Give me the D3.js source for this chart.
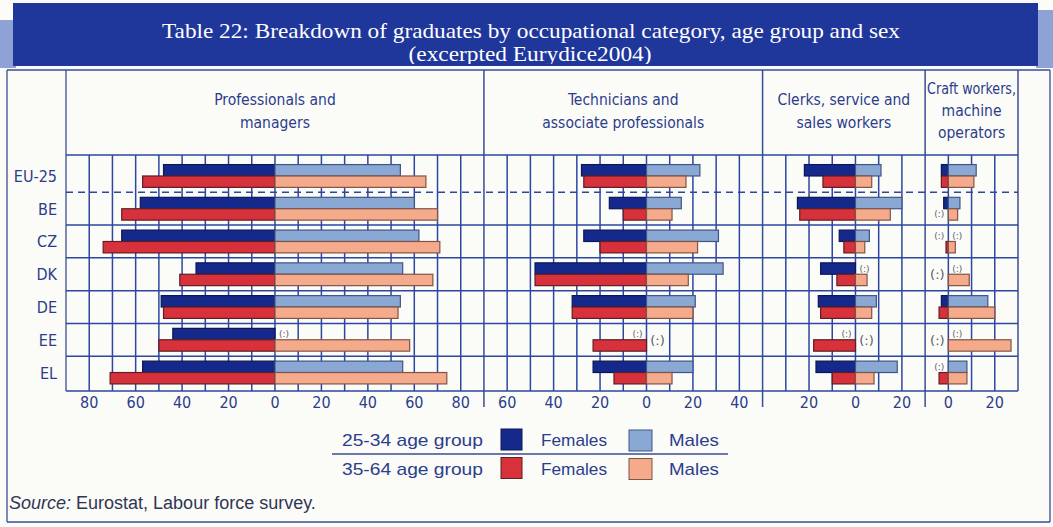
<!DOCTYPE html>
<html>
<head>
<meta charset="utf-8">
<script src="https://cdn.jsdelivr.net/npm/d3@7"></script>
<style>
  html, body { margin: 0; padding: 0; background: #fbfbf8; }
  svg { display: block; }
</style>
</head>
<body>
<svg id="chart" width="1053" height="527"></svg>
<script>
// Countries (rows, top to bottom)
const countries = ["EU-25", "BE", "CZ", "DK", "DE", "EE", "EL"];

// Occupational categories (one panel each)
const categories = [
  ["Professionals and", "managers"],
  ["Technicians and", "associate professionals"],
  ["Clerks, service and", "sales workers"],
  ["Craft workers,", "machine", "operators"]
];

// Per-panel value range (females to the left, males to the right)
const panelDomains = [[-90, 90], [-70, 50], [-40, 30], [-10, 30]];
const gridValues = [
  d3.range(-80, 81, 10),
  d3.range(-60, 41, 10),
  d3.range(-30, 21, 10),
  d3.range(0, 21, 10)
];
const tickLabels = [
  [-80, -60, -40, -20, 0, 20, 40, 60, 80],
  [-60, -40, -20, 0, 20, 40],
  [-20, 0, 20],
  [0, 20]
];

// Percentages; null = not available "(:)"
// 25-34 age group
const females2534 = [
  [48, 58, 66, 34, 49, 44, 57],
  [28, 16, 27, 48, 32, null, 23],
  [22, 25, 7, 15, 16, null, 17],
  [3, 2, null, null, 3, null, null]
];
const males2534 = [
  [54, 60, 62, 55, 54, null, 55],
  [23, 15, 31, 33, 21, null, 20],
  [11, 20, 6, null, 9, null, 18],
  [12, 5, null, null, 17, null, 8]
];
// 35-64 age group
const females3564 = [
  [57, 66, 74, 41, 48, 50, 71],
  [27, 10, 20, 48, 32, 23, 14],
  [14, 24, 5, 8, 15, 18, 10],
  [3, null, 1, null, 4, null, 4]
];
const males3564 = [
  [65, 70, 71, 68, 53, 58, 74],
  [17, 11, 22, 18, 20, null, 11],
  [7, 15, 4, 5, 7, null, 8],
  [11, 4, 3, 9, 20, 27, 8]
];

const legendRows = [
  { label: "25-34 age group", female: "#15298c", male: "#8aa8d4" },
  { label: "35-64 age group", female: "#d7323b", male: "#f6aa8c" }
];

const COL = {
  f1: "#15298c", m1: "#8aa8d4", f2: "#d7323b", m2: "#f6aa8c",
  f1s: "#0b1756", m1s: "#3f5686", f2s: "#5e1e24", m2s: "#7e5546",
  grid: "#2c46a2", frame: "#3a4c94", text: "#2b3d8c", na: "#5b5b66"
};
const NARROW = "'Liberation Sans Narrow', 'DejaVu Sans Condensed', 'Arial Narrow', sans-serif";

const svg = d3.select("#chart");

// ---- Title banner ----
svg.append("rect").attr("x", 0).attr("y", 20).attr("width", 16).attr("height", 48).attr("fill", "#8fa2d6");
svg.append("rect").attr("x", 1036).attr("y", 10).attr("width", 17).attr("height", 58).attr("fill", "#8fa2d6");
svg.append("rect").attr("x", 13).attr("y", 3).attr("width", 1025).attr("height", 63).attr("fill", "#1f379b");
svg.append("clipPath").attr("id", "bannerClip")
  .append("rect").attr("x", 13).attr("y", 3).attr("width", 1025).attr("height", 61);
const titleG = svg.append("g").attr("clip-path", "url(#bannerClip)")
  .attr("font-family", "'Liberation Serif', 'Times New Roman', serif")
  .attr("fill", "#ffffff").attr("text-anchor", "middle");
titleG.append("text").attr("x", 531).attr("y", 38).attr("font-size", 22)
  .attr("textLength", 738).attr("lengthAdjust", "spacingAndGlyphs")
  .text("Table 22: Breakdown of graduates by occupational category, age group and sex");
titleG.append("text").attr("x", 530).attr("y", 61).attr("font-size", 22)
  .attr("textLength", 243).attr("lengthAdjust", "spacingAndGlyphs")
  .text("(excerpted Eurydice2004)");

// ---- Layout ----
const plotLeft = 66, plotRight = 1018, plotTop = 155, plotBottom = 391;
const headerTop = 70;
const spans = panelDomains.map(d => d[1] - d[0]);
const pxPerUnit = (plotRight - plotLeft) / d3.sum(spans);
let acc = plotLeft;
const xScales = panelDomains.map((dom, i) => {
  const s = d3.scaleLinear().domain(dom).range([acc, acc + spans[i] * pxPerUnit]);
  acc += spans[i] * pxPerUnit;
  return s;
});

const y = d3.scaleBand().domain(countries).range([159.6, 388.9]);
const barH = 11.4;

// ---- Frame ----
const frame = svg.append("g").attr("stroke", COL.frame).attr("stroke-width", 1.3).attr("fill", "none");
frame.append("line").attr("x1", 7).attr("x2", 1050).attr("y1", headerTop).attr("y2", headerTop);
frame.append("line").attr("x1", 7).attr("x2", 7).attr("y1", headerTop).attr("y2", 522);
frame.append("line").attr("x1", 1050).attr("x2", 1050).attr("y1", headerTop).attr("y2", 522);
frame.append("line").attr("x1", 7).attr("x2", 1050).attr("y1", 522).attr("y2", 522);
frame.append("line").attr("x1", plotLeft).attr("x2", plotLeft).attr("y1", headerTop).attr("y2", plotBottom);

// ---- Grid (behind bars) ----
const grid = svg.append("g").attr("stroke", COL.grid).attr("stroke-width", 1.5);
xScales.forEach((xs, p) => {
  grid.selectAll(null).data(gridValues[p]).join("line")
    .attr("x1", d => xs(d)).attr("x2", d => xs(d))
    .attr("y1", plotTop).attr("y2", plotBottom);
});
// panel separators, running from header to axis labels
xScales.forEach((xs, p) => {
  const r = xs.range()[1];
  grid.append("line").attr("x1", r).attr("x2", r).attr("y1", headerTop)
    .attr("y2", p < 3 ? 407 : plotBottom).attr("stroke", COL.frame);
});
// row lines
grid.append("line").attr("x1", plotLeft).attr("x2", plotRight).attr("y1", plotTop).attr("y2", plotTop);
grid.append("line").attr("x1", plotLeft).attr("x2", plotRight).attr("y1", plotBottom).attr("y2", plotBottom);
grid.selectAll(null).data(countries.slice(1)).join("line")
  .attr("x1", plotLeft).attr("x2", plotRight)
  .attr("y1", d => y(d)).attr("y2", d => y(d))
  .attr("stroke-dasharray", (d, i) => i === 0 ? "7,5" : null);

// ---- Headers ----
const header = svg.append("g").attr("font-family", NARROW).attr("fill", COL.text)
  .attr("text-anchor", "middle").attr("font-size", 15.5);
categories.forEach((lines, p) => {
  const [a, b] = xScales[p].range();
  const cx = (a + b) / 2;
  const base = lines.length === 3 ? 94 : 105;
  const step = lines.length === 3 ? 22 : 23;
  lines.forEach((t, k) => {
    const el = header.append("text").attr("x", cx).attr("y", base + k * step).text(t);
    // squeeze a line that would overrun its cell
    const maxW = (b - a) - 4;
    if (el.node().getComputedTextLength() > maxW) {
      el.attr("textLength", maxW).attr("lengthAdjust", "spacingAndGlyphs");
    }
  });
});

// ---- Row labels ----
svg.append("g").attr("font-family", NARROW).attr("fill", COL.text)
  .attr("font-size", 16).attr("text-anchor", "end")
  .selectAll("text").data(countries).join("text")
  .attr("x", 57).attr("y", d => y(d) + y.bandwidth() / 2 + 6)
  .text(d => d);

// ---- Bars ----
const bars = svg.append("g").attr("stroke-width", 1.2);
const seriesDefs = [
  { vals: females2534, side: -1, row: 0, fill: COL.f1, stroke: COL.f1s },
  { vals: males2534, side: 1, row: 0, fill: COL.m1, stroke: COL.m1s },
  { vals: females3564, side: -1, row: 1, fill: COL.f2, stroke: COL.f2s },
  { vals: males3564, side: 1, row: 1, fill: COL.m2, stroke: COL.m2s }
];
xScales.forEach((xs, p) => {
  seriesDefs.forEach(s => {
    const data = countries.map((c, i) => ({ c, v: s.vals[p][i] })).filter(d => d.v != null);
    bars.selectAll(null).data(data).join("rect")
      .attr("x", d => Math.min(xs(0), xs(s.side * d.v)))
      .attr("width", d => Math.abs(xs(s.side * d.v) - xs(0)))
      .attr("y", d => y(d.c) + y.bandwidth() / 2 - barH + s.row * barH)
      .attr("height", barH)
      .attr("fill", s.fill).attr("stroke", s.stroke);
  });
});

// ---- Not-available markers "(:)" ----
const na = svg.append("g").attr("fill", COL.na)
  .attr("font-family", "'DejaVu Sans', sans-serif").attr("text-anchor", "middle");
xScales.forEach((xs, p) => {
  countries.forEach((c, i) => {
    const cy = y(c) + y.bandwidth() / 2;
    [[females2534, females3564, -1], [males2534, males3564, 1]].forEach(([young, old, side]) => {
      const vy = young[p][i], vo = old[p][i];
      if (vy == null && vo == null) {
        na.append("text").attr("x", xs(0) + side * 11).attr("y", cy + 5)
          .attr("font-size", 13).text("(:)");
      } else {
        if (vy == null) na.append("text").attr("x", xs(0) + side * 9).attr("y", cy - barH / 2 + 3)
          .attr("font-size", 9).text("(:)");
        if (vo == null) na.append("text").attr("x", xs(0) + side * 9).attr("y", cy + barH / 2 + 3)
          .attr("font-size", 9).text("(:)");
      }
    });
  });
});

// ---- Axis tick labels ----
const axisG = svg.append("g").attr("font-family", NARROW).attr("fill", COL.text)
  .attr("font-size", 16).attr("text-anchor", "middle");
xScales.forEach((xs, p) => {
  axisG.selectAll(null).data(tickLabels[p]).join("text")
    .attr("x", d => xs(d)).attr("y", 408)
    .text(d => Math.abs(d));
});

// ---- Legend ----
const legend = svg.append("g").attr("font-family", "'Liberation Sans', 'Open Sans', sans-serif")
  .attr("fill", COL.text).attr("font-size", 17);
legendRows.forEach((r, k) => {
  const by = 446 + k * 28.5;
  legend.append("text").attr("x", 342).attr("y", by).attr("textLength", 141)
    .attr("lengthAdjust", "spacingAndGlyphs").text(r.label);
  legend.append("rect").attr("x", 501).attr("y", by - 17).attr("width", 21).attr("height", 21)
    .attr("fill", r.female).attr("stroke", k === 0 ? COL.f1s : COL.f2s).attr("stroke-width", 1);
  legend.append("text").attr("x", 541).attr("y", by).attr("textLength", 66)
    .attr("lengthAdjust", "spacingAndGlyphs").text("Females");
  legend.append("rect").attr("x", 629).attr("y", by - 16).attr("width", 23).attr("height", 21)
    .attr("fill", r.male).attr("stroke", k === 0 ? COL.m1s : COL.m2s).attr("stroke-width", 1);
  legend.append("text").attr("x", 669).attr("y", by).attr("textLength", 50)
    .attr("lengthAdjust", "spacingAndGlyphs").text("Males");
});
legend.append("line").attr("x1", 332).attr("x2", 728).attr("y1", 454).attr("y2", 454)
  .attr("stroke", COL.frame).attr("stroke-width", 1.3);

// ---- Source ----
const src = svg.append("text").attr("x", 9).attr("y", 509)
  .attr("font-family", "'Liberation Sans', 'Open Sans', sans-serif")
  .attr("font-size", 18).attr("fill", "#2f3655");
src.append("tspan").attr("font-style", "italic").text("Source:");
src.append("tspan").text(" Eurostat, Labour force survey.");
</script>
</body>
</html>
